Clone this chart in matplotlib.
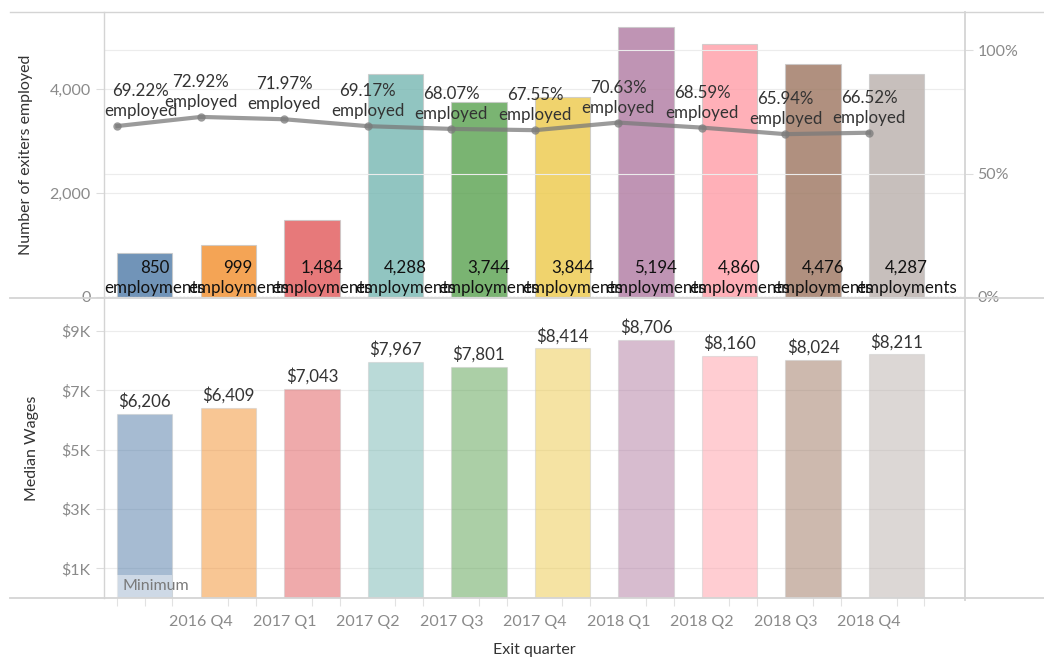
import numpy as np
import matplotlib.pyplot as plt
from matplotlib.lines import Line2D
from matplotlib.ticker import FuncFormatter

plt.rcParams['font.family'] = ['Lato', 'DejaVu Sans']

# data
employments = [850, 999, 1484, 4288, 3744, 3844, 5194, 4860, 4476, 4287]
pct_employed = [69.22, 72.92, 71.97, 69.17, 68.07, 67.55, 70.63, 68.59, 65.94, 66.52]
median_wages = [6206, 6409, 7043, 7967, 7801, 8414, 8706, 8160, 8024, 8211]
quarters = ['2016 Q4', '2017 Q1', '2017 Q2', '2017 Q3', '2017 Q4',
            '2018 Q1', '2018 Q2', '2018 Q3', '2018 Q4']
minimum_wage = 780
colors = ['#4E79A7', '#F28E2B', '#E15759', '#76B7B2', '#59A14F',
          '#EDC948', '#B07AA1', '#FF9DA7', '#9C755F', '#BAB0AC']

W, H = 1044, 658
fig = plt.figure(figsize=(W / 100, H / 100), dpi=100)

def box(l, t, r, b):
    return [l / W, 1 - b / H, (r - l) / W, (b - t) / H]

ax1 = fig.add_axes(box(104, 12, 965, 297))
ax2 = ax1.twinx()
ax3 = fig.add_axes(box(104, 299, 965, 598))

x = np.arange(len(employments))
bw = 0.66
tick_col = '#8a8a8a'
grid_col = '#ececec'
lab_fs = 12.2
tick_fs = 11.5

# ---- top panel: employments bars
ax1.bar(x, employments, width=bw, color=colors, alpha=0.8,
        edgecolor='#c8c8c8', linewidth=0.8, zorder=2)
for xi, v in zip(x, employments):
    ax1.annotate(f'{v:,}\nemployments', (xi, 0), xytext=(7, 1),
                 textcoords='offset points', ha='center', va='bottom',
                 fontsize=lab_fs, color='#111111', linespacing=1.3, zorder=5)
ax1.set_ylim(0, 5480)
ax1.set_yticks([0, 2000, 4000])
ax1.yaxis.set_major_formatter(FuncFormatter(lambda v, p: f'{int(v):,}'))
ax1.axhline(0, color='#bbbbbb', ls=(0, (1.5, 1.5)), lw=0.9, zorder=3)
ax1.set_ylabel('Number of exiters employed', fontsize=11.5, color='#333333', labelpad=12)

# ---- percent employed line
xl = x - bw / 2
p = np.array(pct_employed) / 100
ax2.plot(xl, p, color='#7a7a7a', lw=3, alpha=0.75, marker='o', ms=6,
         markeredgewidth=0, zorder=4)
for i, (xi, v) in enumerate(zip(xl, p)):
    dx = 17 if i == 0 else 0
    ax2.annotate(f'{v * 100:.2f}%\nemployed', (xi, v), xytext=(dx, 5),
                 textcoords='offset points', ha='center', va='bottom',
                 fontsize=lab_fs, color='#333333', linespacing=1.3)
ax2.set_ylim(0, 1.154)
ax2.set_yticks([0, 0.5, 1.0])
ax2.yaxis.set_major_formatter(FuncFormatter(lambda v, p: f'{v * 100:.0f}%'))

# ---- bottom panel: median wages
ax3.bar(x, median_wages, width=bw, color=colors, alpha=0.5,
        edgecolor='#cccccc', linewidth=0.8, zorder=2)
for xi, v in zip(x, median_wages):
    ax3.annotate(f'${v:,}', (xi, v), xytext=(0, 3), textcoords='offset points',
                 ha='center', va='bottom', fontsize=lab_fs, color='#333333')
ax3.bar(x[0], minimum_wage, width=bw, color='white', alpha=0.45, zorder=3)
ax3.text(x[0] - bw / 2 + 0.06, minimum_wage / 2, 'Minimum', ha='left',
         va='center', fontsize=tick_fs, color='#7a7a7a', zorder=4)
ax3.set_ylim(0, 10080)
ax3.set_yticks([1000, 3000, 5000, 7000, 9000])
ax3.yaxis.set_major_formatter(FuncFormatter(lambda v, p: f'${v / 1000:.0f}K'))
ax3.set_ylabel('Median Wages', fontsize=11.5, color='#333333', labelpad=16)
ax3.set_xticks(np.arange(len(quarters)) + 1 - bw / 2)
ax3.set_xticklabels(quarters)
edges = np.sort(np.concatenate([x - bw / 2, x, x + bw / 2]))
ax3.set_xticks(edges, minor=True)
ax3.tick_params(axis='x', which='major', length=0, pad=12, labelsize=tick_fs,
                labelcolor=tick_col)
ax3.tick_params(axis='x', which='minor', length=6, color='#e2e2e2', width=0.8)
ax3.set_xlabel('Exit quarter', fontsize=11.5, color='#333333', labelpad=10)

for ax in (ax1, ax3):
    ax.set_xlim(-0.49, 9.82)
    ax.grid(axis='y', color=grid_col, lw=0.8, zorder=0)
    ax.set_axisbelow(True)
    ax.tick_params(axis='y', length=6, color='#dddddd', labelsize=tick_fs,
                   labelcolor=tick_col)
ax1.set_xticks([])
ax2.grid(axis='y', color=grid_col, lw=0.8)
ax2.tick_params(axis='y', length=6, color='#dddddd', labelsize=tick_fs,
                labelcolor=tick_col, pad=3)
for ax in (ax1, ax2, ax3):
    for s in ax.spines.values():
        s.set_visible(False)

# panel frame lines
def fline(x0, y0, x1, y1, c='#d4d4d4', lw=1.0):
    fig.add_artist(Line2D([x0 / W, x1 / W], [1 - y0 / H, 1 - y1 / H],
                          color=c, lw=lw, transform=fig.transFigure))

fline(10, 12, W, 12)
fline(10, 298, W, 298, lw=1.3)
fline(10, 598, W, 598, lw=1.3)
fline(104, 12, 104, 598)
fline(965, 12, 965, 600, lw=1.3)

fig.savefig('out.png', dpi=100)
